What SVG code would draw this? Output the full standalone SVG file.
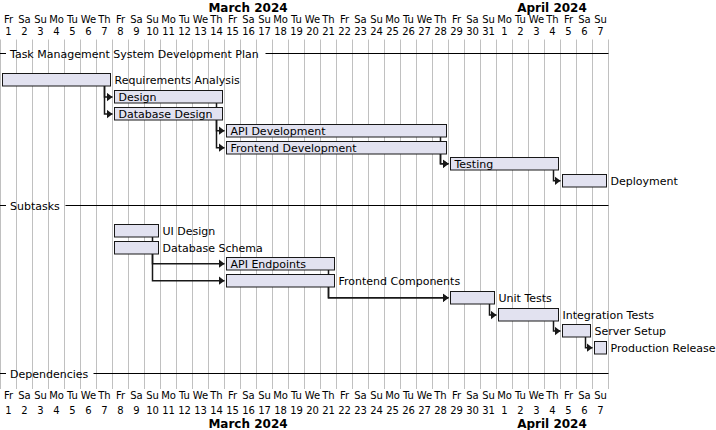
<svg xmlns="http://www.w3.org/2000/svg" width="716" height="430" viewBox="0 0 716 430">
<defs>
<style>
.grid line{stroke:#C0C0C0;stroke-width:1}
.dow,.num{font-family:"DejaVu Sans",sans-serif;font-size:10px;fill:#000;text-anchor:middle}
.month{font-family:"DejaVu Sans",sans-serif;font-size:12px;font-weight:bold;fill:#000;text-anchor:middle}
.lbl{font-family:"DejaVu Sans",sans-serif;font-size:11px;fill:#000}
.bar{fill:#E2E2F0;stroke:#181818;stroke-width:1}
.sep{stroke:#000;stroke-width:1}
.conn path{fill:none;stroke:#181818;stroke-width:1.5;marker-end:url(#ah)}
</style>
<marker id="ah" markerUnits="userSpaceOnUse" markerWidth="8" markerHeight="10" refX="6" refY="4.5" orient="auto">
<path d="M0,0 L6,4.5 L0,9 Z" fill="#181818"/>
</marker>
</defs>
<rect width="716" height="430" fill="#fff"/>
<g class="grid" id="grid">
<line x1="0.5" y1="39.5" x2="0.5" y2="389"/><line x1="16.5" y1="39.5" x2="16.5" y2="389"/><line x1="32.5" y1="39.5" x2="32.5" y2="389"/><line x1="48.5" y1="39.5" x2="48.5" y2="389"/><line x1="64.5" y1="39.5" x2="64.5" y2="389"/><line x1="80.5" y1="39.5" x2="80.5" y2="389"/><line x1="96.5" y1="39.5" x2="96.5" y2="389"/><line x1="112.5" y1="39.5" x2="112.5" y2="389"/><line x1="128.5" y1="39.5" x2="128.5" y2="389"/><line x1="144.5" y1="39.5" x2="144.5" y2="389"/><line x1="160.5" y1="39.5" x2="160.5" y2="389"/><line x1="176.5" y1="39.5" x2="176.5" y2="389"/><line x1="192.5" y1="39.5" x2="192.5" y2="389"/><line x1="208.5" y1="39.5" x2="208.5" y2="389"/><line x1="224.5" y1="39.5" x2="224.5" y2="389"/><line x1="240.5" y1="39.5" x2="240.5" y2="389"/><line x1="256.5" y1="39.5" x2="256.5" y2="389"/><line x1="272.5" y1="39.5" x2="272.5" y2="389"/><line x1="288.5" y1="39.5" x2="288.5" y2="389"/><line x1="304.5" y1="39.5" x2="304.5" y2="389"/><line x1="320.5" y1="39.5" x2="320.5" y2="389"/><line x1="336.5" y1="39.5" x2="336.5" y2="389"/><line x1="352.5" y1="39.5" x2="352.5" y2="389"/><line x1="368.5" y1="39.5" x2="368.5" y2="389"/><line x1="384.5" y1="39.5" x2="384.5" y2="389"/><line x1="400.5" y1="39.5" x2="400.5" y2="389"/><line x1="416.5" y1="39.5" x2="416.5" y2="389"/><line x1="432.5" y1="39.5" x2="432.5" y2="389"/><line x1="448.5" y1="39.5" x2="448.5" y2="389"/><line x1="464.5" y1="39.5" x2="464.5" y2="389"/><line x1="480.5" y1="39.5" x2="480.5" y2="389"/><line x1="496.5" y1="39.5" x2="496.5" y2="389"/><line x1="512.5" y1="39.5" x2="512.5" y2="389"/><line x1="528.5" y1="39.5" x2="528.5" y2="389"/><line x1="544.5" y1="39.5" x2="544.5" y2="389"/><line x1="560.5" y1="39.5" x2="560.5" y2="389"/><line x1="576.5" y1="39.5" x2="576.5" y2="389"/><line x1="592.5" y1="39.5" x2="592.5" y2="389"/><line x1="608.5" y1="39.5" x2="608.5" y2="389"/>
</g>
<g id="header-top">
<text class="month" x="248" y="12">March 2024</text>
<text class="month" x="552" y="12">April 2024</text>
<g class="dowrow">
<text class="dow" x="8.5" y="23">Fr</text><text class="dow" x="24.5" y="23">Sa</text><text class="dow" x="40.5" y="23">Su</text><text class="dow" x="56.5" y="23">Mo</text><text class="dow" x="72.5" y="23">Tu</text><text class="dow" x="88.5" y="23">We</text><text class="dow" x="104.5" y="23">Th</text><text class="dow" x="120.5" y="23">Fr</text><text class="dow" x="136.5" y="23">Sa</text><text class="dow" x="152.5" y="23">Su</text><text class="dow" x="168.5" y="23">Mo</text><text class="dow" x="184.5" y="23">Tu</text><text class="dow" x="200.5" y="23">We</text><text class="dow" x="216.5" y="23">Th</text><text class="dow" x="232.5" y="23">Fr</text><text class="dow" x="248.5" y="23">Sa</text><text class="dow" x="264.5" y="23">Su</text><text class="dow" x="280.5" y="23">Mo</text><text class="dow" x="296.5" y="23">Tu</text><text class="dow" x="312.5" y="23">We</text><text class="dow" x="328.5" y="23">Th</text><text class="dow" x="344.5" y="23">Fr</text><text class="dow" x="360.5" y="23">Sa</text><text class="dow" x="376.5" y="23">Su</text><text class="dow" x="392.5" y="23">Mo</text><text class="dow" x="408.5" y="23">Tu</text><text class="dow" x="424.5" y="23">We</text><text class="dow" x="440.5" y="23">Th</text><text class="dow" x="456.5" y="23">Fr</text><text class="dow" x="472.5" y="23">Sa</text><text class="dow" x="488.5" y="23">Su</text><text class="dow" x="504.5" y="23">Mo</text><text class="dow" x="520.5" y="23">Tu</text><text class="dow" x="536.5" y="23">We</text><text class="dow" x="552.5" y="23">Th</text><text class="dow" x="568.5" y="23">Fr</text><text class="dow" x="584.5" y="23">Sa</text><text class="dow" x="600.5" y="23">Su</text>
</g>
<g class="numrow">
<text class="num" x="8.5" y="34.5">1</text><text class="num" x="24.5" y="34.5">2</text><text class="num" x="40.5" y="34.5">3</text><text class="num" x="56.5" y="34.5">4</text><text class="num" x="72.5" y="34.5">5</text><text class="num" x="88.5" y="34.5">6</text><text class="num" x="104.5" y="34.5">7</text><text class="num" x="120.5" y="34.5">8</text><text class="num" x="136.5" y="34.5">9</text><text class="num" x="152.5" y="34.5">10</text><text class="num" x="168.5" y="34.5">11</text><text class="num" x="184.5" y="34.5">12</text><text class="num" x="200.5" y="34.5">13</text><text class="num" x="216.5" y="34.5">14</text><text class="num" x="232.5" y="34.5">15</text><text class="num" x="248.5" y="34.5">16</text><text class="num" x="264.5" y="34.5">17</text><text class="num" x="280.5" y="34.5">18</text><text class="num" x="296.5" y="34.5">19</text><text class="num" x="312.5" y="34.5">20</text><text class="num" x="328.5" y="34.5">21</text><text class="num" x="344.5" y="34.5">22</text><text class="num" x="360.5" y="34.5">23</text><text class="num" x="376.5" y="34.5">24</text><text class="num" x="392.5" y="34.5">25</text><text class="num" x="408.5" y="34.5">26</text><text class="num" x="424.5" y="34.5">27</text><text class="num" x="440.5" y="34.5">28</text><text class="num" x="456.5" y="34.5">29</text><text class="num" x="472.5" y="34.5">30</text><text class="num" x="488.5" y="34.5">31</text><text class="num" x="504.5" y="34.5">1</text><text class="num" x="520.5" y="34.5">2</text><text class="num" x="536.5" y="34.5">3</text><text class="num" x="552.5" y="34.5">4</text><text class="num" x="568.5" y="34.5">5</text><text class="num" x="584.5" y="34.5">6</text><text class="num" x="600.5" y="34.5">7</text>
</g>
</g>
<g id="header-bottom">
<g class="dowrow">
<text class="dow" x="8.5" y="398.5">Fr</text><text class="dow" x="24.5" y="398.5">Sa</text><text class="dow" x="40.5" y="398.5">Su</text><text class="dow" x="56.5" y="398.5">Mo</text><text class="dow" x="72.5" y="398.5">Tu</text><text class="dow" x="88.5" y="398.5">We</text><text class="dow" x="104.5" y="398.5">Th</text><text class="dow" x="120.5" y="398.5">Fr</text><text class="dow" x="136.5" y="398.5">Sa</text><text class="dow" x="152.5" y="398.5">Su</text><text class="dow" x="168.5" y="398.5">Mo</text><text class="dow" x="184.5" y="398.5">Tu</text><text class="dow" x="200.5" y="398.5">We</text><text class="dow" x="216.5" y="398.5">Th</text><text class="dow" x="232.5" y="398.5">Fr</text><text class="dow" x="248.5" y="398.5">Sa</text><text class="dow" x="264.5" y="398.5">Su</text><text class="dow" x="280.5" y="398.5">Mo</text><text class="dow" x="296.5" y="398.5">Tu</text><text class="dow" x="312.5" y="398.5">We</text><text class="dow" x="328.5" y="398.5">Th</text><text class="dow" x="344.5" y="398.5">Fr</text><text class="dow" x="360.5" y="398.5">Sa</text><text class="dow" x="376.5" y="398.5">Su</text><text class="dow" x="392.5" y="398.5">Mo</text><text class="dow" x="408.5" y="398.5">Tu</text><text class="dow" x="424.5" y="398.5">We</text><text class="dow" x="440.5" y="398.5">Th</text><text class="dow" x="456.5" y="398.5">Fr</text><text class="dow" x="472.5" y="398.5">Sa</text><text class="dow" x="488.5" y="398.5">Su</text><text class="dow" x="504.5" y="398.5">Mo</text><text class="dow" x="520.5" y="398.5">Tu</text><text class="dow" x="536.5" y="398.5">We</text><text class="dow" x="552.5" y="398.5">Th</text><text class="dow" x="568.5" y="398.5">Fr</text><text class="dow" x="584.5" y="398.5">Sa</text><text class="dow" x="600.5" y="398.5">Su</text>
</g>
<g class="numrow">
<text class="num" x="8.5" y="413.5">1</text><text class="num" x="24.5" y="413.5">2</text><text class="num" x="40.5" y="413.5">3</text><text class="num" x="56.5" y="413.5">4</text><text class="num" x="72.5" y="413.5">5</text><text class="num" x="88.5" y="413.5">6</text><text class="num" x="104.5" y="413.5">7</text><text class="num" x="120.5" y="413.5">8</text><text class="num" x="136.5" y="413.5">9</text><text class="num" x="152.5" y="413.5">10</text><text class="num" x="168.5" y="413.5">11</text><text class="num" x="184.5" y="413.5">12</text><text class="num" x="200.5" y="413.5">13</text><text class="num" x="216.5" y="413.5">14</text><text class="num" x="232.5" y="413.5">15</text><text class="num" x="248.5" y="413.5">16</text><text class="num" x="264.5" y="413.5">17</text><text class="num" x="280.5" y="413.5">18</text><text class="num" x="296.5" y="413.5">19</text><text class="num" x="312.5" y="413.5">20</text><text class="num" x="328.5" y="413.5">21</text><text class="num" x="344.5" y="413.5">22</text><text class="num" x="360.5" y="413.5">23</text><text class="num" x="376.5" y="413.5">24</text><text class="num" x="392.5" y="413.5">25</text><text class="num" x="408.5" y="413.5">26</text><text class="num" x="424.5" y="413.5">27</text><text class="num" x="440.5" y="413.5">28</text><text class="num" x="456.5" y="413.5">29</text><text class="num" x="472.5" y="413.5">30</text><text class="num" x="488.5" y="413.5">31</text><text class="num" x="504.5" y="413.5">1</text><text class="num" x="520.5" y="413.5">2</text><text class="num" x="536.5" y="413.5">3</text><text class="num" x="552.5" y="413.5">4</text><text class="num" x="568.5" y="413.5">5</text><text class="num" x="584.5" y="413.5">6</text><text class="num" x="600.5" y="413.5">7</text>
</g>
<text class="month" x="248" y="427.5">March 2024</text>
<text class="month" x="552" y="427.5">April 2024</text>
</g>
<g id="sep-main">
<line class="sep" x1="0" y1="53.5" x2="6" y2="53.5"/>
<text class="lbl" x="10" y="57.5">Task Management System Development Plan</text>
<line class="sep" x1="265.5" y1="53.5" x2="608.5" y2="53.5"/>
</g>
<g id="sep-subtasks">
<line class="sep" x1="0" y1="205.5" x2="6" y2="205.5"/>
<text class="lbl" x="10" y="209.5">Subtasks</text>
<line class="sep" x1="65.5" y1="205.5" x2="608.5" y2="205.5"/>
</g>
<g id="sep-deps">
<line class="sep" x1="0" y1="373.5" x2="6" y2="373.5"/>
<text class="lbl" x="10" y="377.5">Dependencies</text>
<line class="sep" x1="93.5" y1="373.5" x2="608.5" y2="373.5"/>
</g>
<g class="conn" id="connectors">
<path d="M104.5,86 V97 H112.5"/>
<path d="M104.5,86 V114 H112.5"/>
<path d="M216.5,103 V130.7 H224.5"/>
<path d="M216.5,120 V147.7 H224.5"/>
<path d="M440.5,137 V163.8 H448.5"/>
<path d="M440.5,154 V163.8 H448.5"/>
<path d="M553.5,170 V180.8 H560.5"/>
<path d="M152.5,237 V263.7 H224.5"/>
<path d="M152.5,254 V280.7 H224.5"/>
<path d="M328.5,270 V297.8 H448.5"/>
<path d="M328.5,287 V297.8 H448.5"/>
<path d="M489.5,304 V315 H496.5"/>
<path d="M553.5,321 V331 H560.5"/>
<path d="M585.5,337 V347.7 H592.5"/>
</g>
<g id="t-req"><rect class="bar" x="2.5" y="73.5" width="108" height="12.5"/><text class="lbl" x="114.5" y="84">Requirements Analysis</text></g>
<g id="t-design"><rect class="bar" x="114.5" y="90.5" width="108" height="12.5"/><text class="lbl" x="118.5" y="101">Design</text></g>
<g id="t-dbdesign"><rect class="bar" x="114.5" y="107.5" width="108" height="12.5"/><text class="lbl" x="118.5" y="118">Database Design</text></g>
<g id="t-api"><rect class="bar" x="226.5" y="124.5" width="220" height="12.5"/><text class="lbl" x="230.5" y="135">API Development</text></g>
<g id="t-frontend"><rect class="bar" x="226.5" y="141.5" width="220" height="12.5"/><text class="lbl" x="230.5" y="152">Frontend Development</text></g>
<g id="t-testing"><rect class="bar" x="450.5" y="157.5" width="108" height="12.5"/><text class="lbl" x="454.5" y="168">Testing</text></g>
<g id="t-deploy"><rect class="bar" x="562.5" y="174.5" width="44" height="12.5"/><text class="lbl" x="610.5" y="185">Deployment</text></g>
<g id="s-ui"><rect class="bar" x="114.5" y="224.5" width="44" height="12.5"/><text class="lbl" x="162.5" y="235">UI Design</text></g>
<g id="s-dbschema"><rect class="bar" x="114.5" y="241.5" width="44" height="12.5"/><text class="lbl" x="162.5" y="252">Database Schema</text></g>
<g id="s-apiend"><rect class="bar" x="226.5" y="257.5" width="108" height="12.5"/><text class="lbl" x="230.5" y="268">API Endpoints</text></g>
<g id="s-fecomp"><rect class="bar" x="226.5" y="274.5" width="108" height="12.5"/><text class="lbl" x="338.5" y="285">Frontend Components</text></g>
<g id="s-unit"><rect class="bar" x="450.5" y="291.5" width="44" height="12.5"/><text class="lbl" x="498.5" y="302">Unit Tests</text></g>
<g id="s-integ"><rect class="bar" x="498.5" y="308.5" width="60" height="12.5"/><text class="lbl" x="562.5" y="319">Integration Tests</text></g>
<g id="s-server"><rect class="bar" x="562.5" y="324.5" width="28" height="12.5"/><text class="lbl" x="594.5" y="335">Server Setup</text></g>
<g id="s-prod"><rect class="bar" x="594.5" y="341.5" width="12" height="12.5"/><text class="lbl" x="610.5" y="352">Production Release</text></g>
</svg>
